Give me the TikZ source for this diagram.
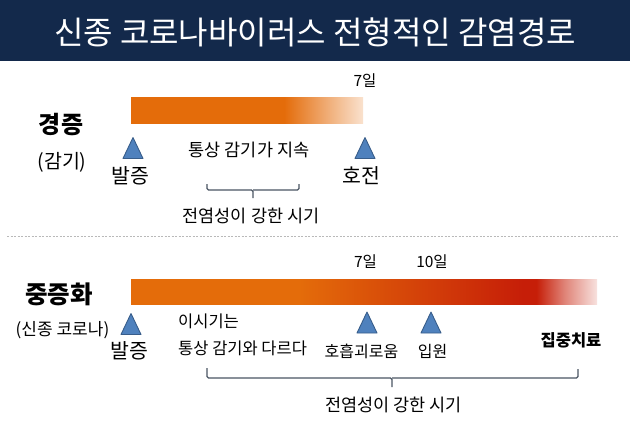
\documentclass[tikz,border=0pt]{standalone}
\usepackage{fontspec}
\setmainfont{Noto Sans CJK KR}
\definecolor{navy}{HTML}{13294B}
\definecolor{orng}{HTML}{E46C0A}
\definecolor{redd}{HTML}{C61E08}
\definecolor{tribl}{HTML}{4F81BD}
\definecolor{tribd}{HTML}{385D8A}
\definecolor{brc}{HTML}{4A5563}
\pgfdeclarehorizontalshading{topbar}{100bp}{color(0bp)=(orng); color(25bp)=(orng); color(58bp)=(orng); color(66bp)=(orng!62!white); color(75bp)=(orng!20!white); color(100bp)=(orng!20!white)}
\pgfdeclarehorizontalshading{botbar}{100bp}{color(0bp)=(orng); color(25bp)=(orng); color(43bp)=(orng); color(56bp)=(orng!45!redd); color(67bp)=(redd); color(68.5bp)=(redd); color(71.5bp)=(redd!55!white); color(75bp)=(redd!13!white); color(100bp)=(redd!13!white)}
\tikzset{
  uptri/.pic={\draw[fill=tribl, draw=tribd, line width=0.9pt, line join=round] (-10,10.5) -- (0,-10.5) -- (10,10.5) -- cycle;},
  txt/.style={inner sep=0pt, text=black},
  f15/.style={txt, font=\fontsize{15.5}{18}\selectfont},
  f16/.style={txt, font=\fontsize{16}{19}\selectfont},
  f165/.style={txt, font=\fontsize{16.5}{19}\selectfont},
  f175/.style={txt, font=\fontsize{17.5}{20}\selectfont},
  f20/.style={txt, font=\fontsize{20.5}{23}\selectfont},
  brace/.style={draw=brc, line width=1.1pt, rounded corners=1.5pt},
}
\begin{document}
\begin{tikzpicture}[x=1pt,y=-1pt]
\useasboundingbox (0,0) rectangle (630,437);
\fill[navy] (0,0) rectangle (630,61);
\node[txt, text=white, font=\fontsize{32}{36}\selectfont] (title) at (315,32) {신종 코로나바이러스 전형적인 감염경로};

% top section
\shade[shading=topbar] (131,97.5) rectangle (363,123);
\node[f15] (d7a) at (365,81) {7일};
\node[txt, font=\fontsize{24}{27}\selectfont\bfseries] (mild) at (61,125) {경증};
\node[txt, font=\fontsize{19.5}{22}\selectfont] (cold) at (62,162) {(감기)};
\pic at (133,148) {uptri};
\pic at (365,148) {uptri};
\node[f20] (onset1) at (130,176) {발증};
\node[f20] (recov) at (361,176) {호전};
\node[f175] (cont) at (249,150) {통상 감기가 지속};
\coordinate (b1l) at (207,184);
\coordinate (b1m) at (253,190);
\coordinate (b1t) at (253,198);
\coordinate (b1r) at (299,184);
\draw[brace] (b1l) |- (b1m) -- (b1t);
\draw[brace] (b1m) -| (b1r);
\node[f175] (inf1) at (251,216) {전염성이 강한 시기};

% separator
\coordinate (sepl) at (7,236);
\coordinate (sepr) at (618,236);
\draw[gray!55, line width=0.6pt, dash pattern=on 2pt off 1.5pt] (sepl) -- (sepr);

% bottom section
\shade[shading=botbar] (131,279) rectangle (597,304);
\node[f15] (d7b) at (365.5,262) {7일};
\node[f15] (d10) at (432,262) {10일};
\node[txt, font=\fontsize{24.5}{28}\selectfont\bfseries] (severe) at (59,294) {중증화};
\node[txt, font=\fontsize{17}{20}\selectfont] (covid) at (62.5,330) {(신종 코로나)};
\pic at (131,324) {uptri};
\pic at (367,322.5) {uptri};
\pic at (431,322.5) {uptri};
\node[f20] (onset2) at (129.5,351) {발증};
\node[f165, anchor=west] (this) at (178,321) {이시기는};
\node[f165, anchor=west] (diff) at (178,348) {통상 감기와 다르다};
\node[f16] (breath) at (361.5,351) {호흡괴로움};
\node[f16] (hosp) at (432.5,351) {입원};
\node[txt, font=\fontsize{16.5}{19}\selectfont\bfseries] (icu) at (571,340) {집중치료};
\coordinate (b2l) at (207,368);
\coordinate (b2m) at (392,378);
\coordinate (b2t) at (392,387);
\coordinate (b2r) at (578,369);
\draw[brace] (b2l) |- (b2m) -- (b2t);
\draw[brace] (b2m) -| (b2r);
\node[f175] (inf2) at (393.5,405) {전염성이 강한 시기};
\end{tikzpicture}
\end{document}
